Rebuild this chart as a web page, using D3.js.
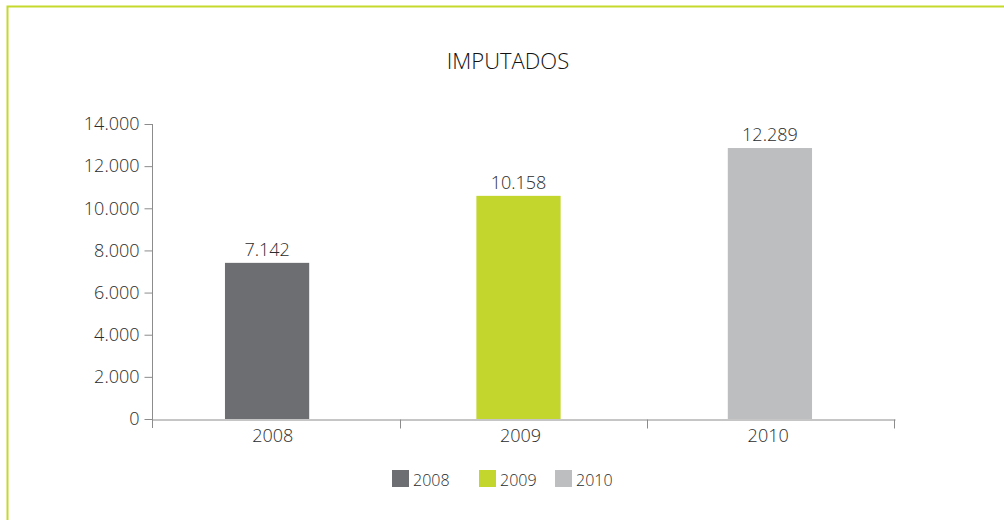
<!DOCTYPE html>
<html>

<head>
	<meta charset='utf-8'>
	<style>
		body {
			margin: 0;
			background: #fff;
		}

		svg {
			display: block;
			font-family: 'Open Sans', 'DejaVu Sans', sans-serif;
			font-weight: 300;
		}
	</style>
</head>

<body>
	<svg></svg>
	<script src="https://d3js.org/d3.v7.min.js"></script>
	<script>
		// data
		var years = ['2008', '2009', '2010'];
		var values = [7142, 10158, 12289];        // printed labels
		var barLevels = [7410, 10590, 12860];     // bar tops as drawn in the source
		var yTicks = [0, 2000, 4000, 6000, 8000, 10000, 12000, 14000];
		var colors = ['#6d6e71', '#c2d62e', '#bcbec0'];
		var title = 'IMPUTADOS';

		var width = 1004, height = 520;
		var plotLeft = 152, plotRight = 895, plotTop = 124, plotBottom = 419;
		var textColor = '#2b2b2b', axisColor = '#8c8c8c';

		var locale = d3.formatLocale({ decimal: ',', thousands: '.', grouping: [3], currency: ['', ''] });
		var fmt = locale.format(',d');

		var svg = d3.select('svg').attr('width', width).attr('height', height);

		// frame
		svg.append('path')
			.attr('d', 'M7.5,' + height + 'V6.5H' + width)
			.attr('fill', 'none')
			.attr('stroke', '#c5d92d')
			.attr('stroke-width', 2);

		svg.append('text')
			.attr('x', 508).attr('y', 69)
			.attr('text-anchor', 'middle')
			.attr('font-size', 22)
			.attr('fill', '#111')
			.text(title);

		var x = d3.scaleBand().domain(years).range([plotLeft, plotRight]);
		var xBar = d3.scaleBand().domain(years).range([142, 895]).paddingInner(0.665).paddingOuter(0.33);
		var y = d3.scaleLinear().domain([0, 14000]).range([plotBottom, plotTop]);

		// bars
		svg.selectAll('rect.bar')
			.data(years)
			.enter()
			.append('rect')
			.attr('class', 'bar')
			.attr('x', function (d) { return xBar(d) })
			.attr('width', xBar.bandwidth())
			.attr('y', function (d, i) { return y(barLevels[i]) })
			.attr('height', function (d, i) { return y(0) - y(barLevels[i]) })
			.attr('fill', function (d, i) { return colors[i] });

		svg.selectAll('text.val')
			.data(years)
			.enter()
			.append('text')
			.attr('class', 'val')
			.attr('x', function (d) { return xBar(d) + xBar.bandwidth() / 2 })
			.attr('y', function (d, i) { return y(barLevels[i]) - 7 })
			.attr('text-anchor', 'middle')
			.attr('font-size', 18)
			.attr('fill', textColor)
			.text(function (d, i) { return fmt(values[i]) });

		// y axis
		var yAxis = svg.append('g')
			.attr('transform', 'translate(' + (plotLeft + 0.5) + ',0)')
			.call(d3.axisLeft(y).tickValues(yTicks).tickFormat(fmt).tickSize(8).tickPadding(5).tickSizeOuter(0))
			.attr('font-family', null).attr('font-size', 18);
		yAxis.select('.domain').attr('d', 'M0,' + plotTop + 'V' + (plotBottom + 9)).attr('stroke', axisColor);
		yAxis.selectAll('.tick line').attr('stroke', axisColor);
		yAxis.selectAll('.tick text').attr('fill', textColor);

		// x axis
		var xAxis = svg.append('g')
			.attr('transform', 'translate(0,' + (plotBottom + 0.5) + ')')
			.call(d3.axisBottom(x).tickSize(0).tickPadding(10).tickSizeOuter(0))
			.attr('font-family', null).attr('font-size', 18);
		xAxis.select('.domain').attr('stroke', axisColor);
		xAxis.selectAll('.tick text').attr('fill', textColor).attr('dx', -3);
		xAxis.selectAll('line.sep')
			.data(years.slice(1).concat(['end']))
			.enter()
			.append('line')
			.attr('class', 'sep')
			.attr('x1', function (d) { return d === 'end' ? plotRight - 0.5 : Math.round(x(d)) + 0.5 })
			.attr('x2', function (d) { return d === 'end' ? plotRight - 0.5 : Math.round(x(d)) + 0.5 })
			.attr('y1', 0).attr('y2', 9)
			.attr('stroke', axisColor);

		// legend
		var legendX = [392, 479, 555];
		var legend = svg.selectAll('g.leg')
			.data(years)
			.enter()
			.append('g')
			.attr('class', 'leg')
			.attr('transform', function (d, i) { return 'translate(' + legendX[i] + ',470)' });
		legend.append('rect')
			.attr('width', 17).attr('height', 17)
			.attr('fill', function (d, i) { return colors[i] });
		legend.append('text')
			.attr('x', 21).attr('y', 16)
			.attr('font-size', 16)
			.attr('fill', textColor)
			.text(function (d) { return d });
	</script>
</body>

</html>
